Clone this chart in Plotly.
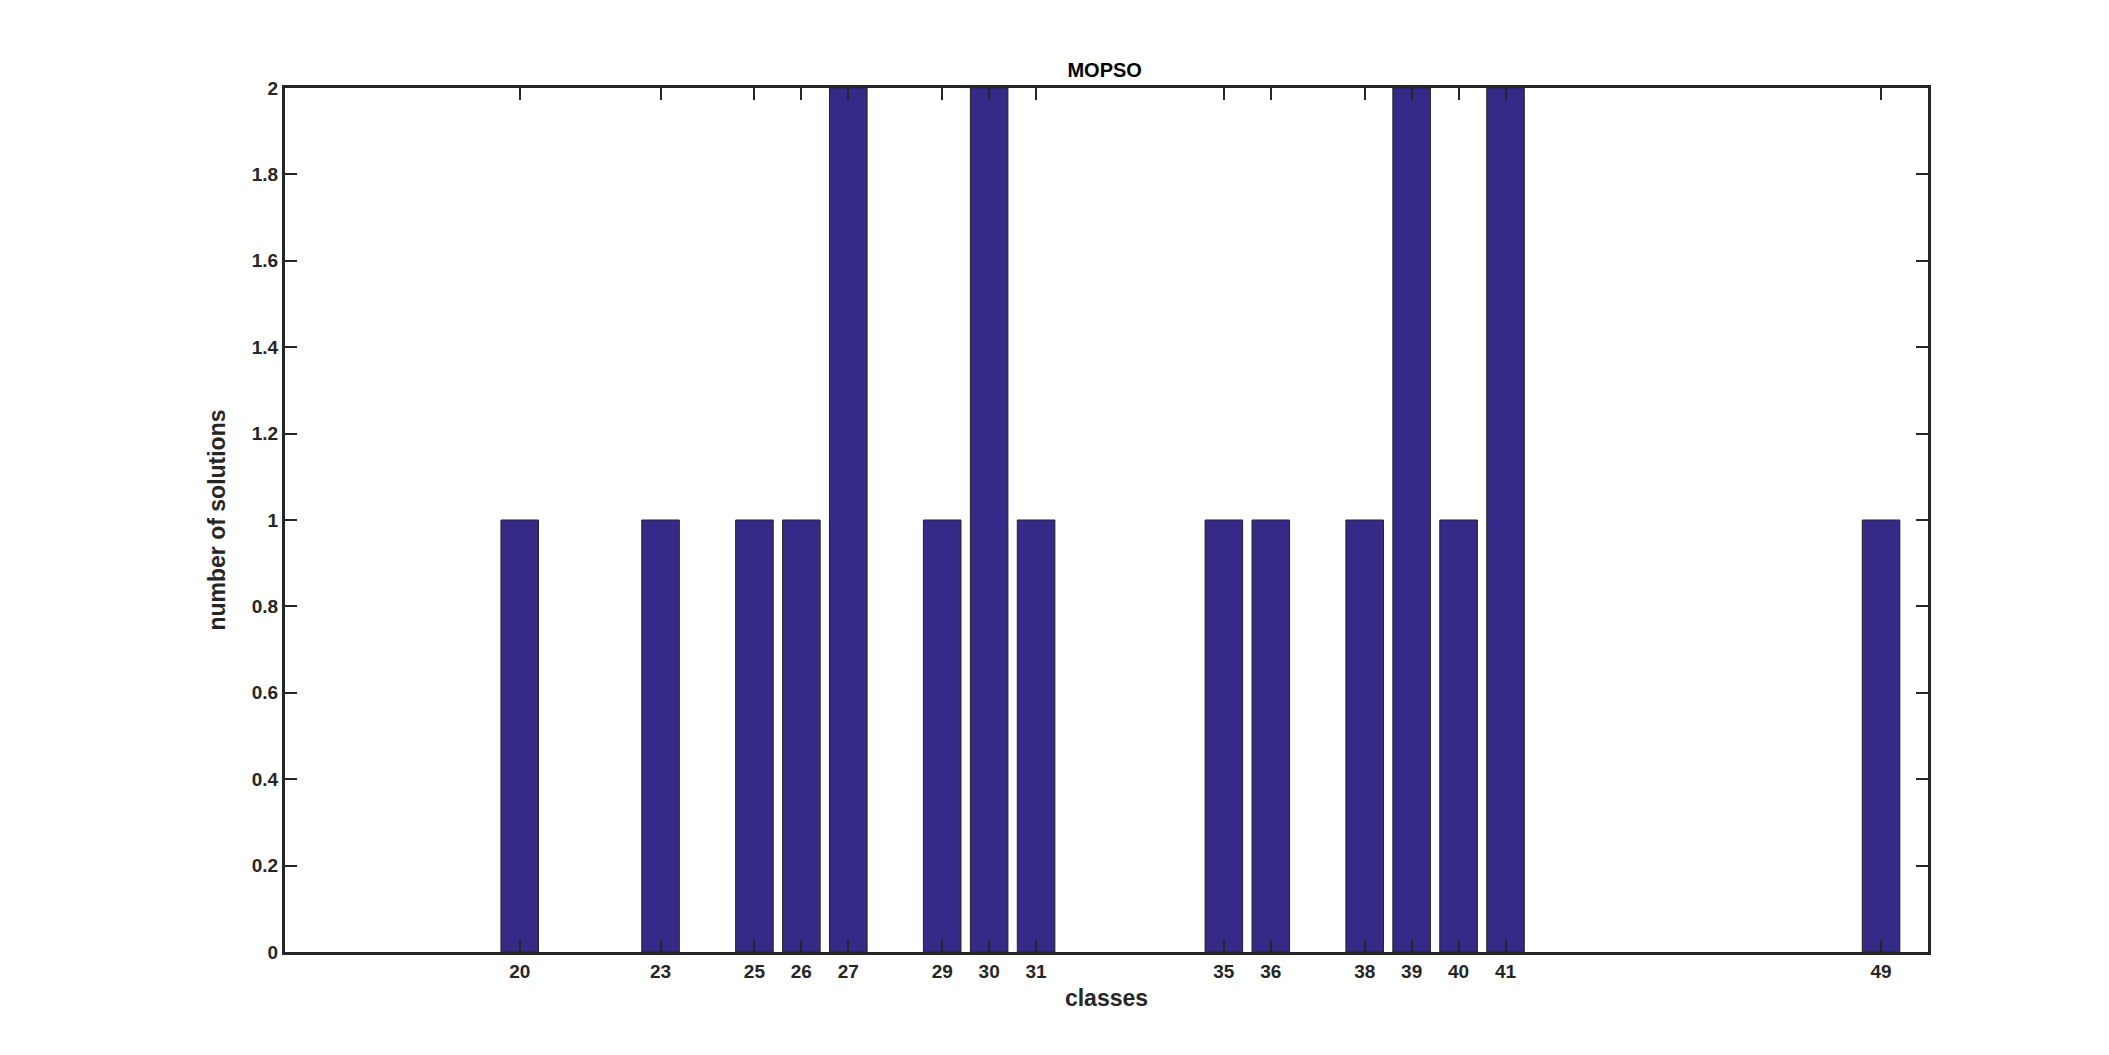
import plotly.graph_objects as go

classes = [20, 23, 25, 26, 27, 29, 30, 31, 35, 36, 38, 39, 40, 41, 49]
counts = [1, 1, 1, 1, 2, 1, 2, 1, 1, 1, 1, 2, 1, 2, 1]
y_ticks = [0, 0.2, 0.4, 0.6, 0.8, 1, 1.2, 1.4, 1.6, 1.8, 2]

fig = go.Figure(go.Bar(
    x=classes, y=counts, width=0.8,
    marker=dict(color="#352a87", line=dict(color="#222222", width=1)),
))

font = dict(family="Liberation Sans, Arial", size=19, color="#262626")

fig.update_layout(
    width=2109, height=1055,
    paper_bgcolor="white", plot_bgcolor="white",
    margin=dict(l=277, r=189, t=80, b=111),
    showlegend=False,
    title=dict(text="<b>MOPSO</b>", x=0.52, xanchor="center", y=0.935, yanchor="bottom",
               font=dict(family="Liberation Sans, Arial", size=20, color="black")),
    font=font,
)
fig.update_xaxes(
    range=[15, 50], tickvals=classes, ticktext=[f"<b>{c}</b>" for c in classes],
    ticks="inside", ticklen=12, tickwidth=2, tickcolor="#262626",
    showline=True, linecolor="#262626", linewidth=3, mirror="ticks",
    showgrid=False, zeroline=False,
    title=dict(text="<b>classes</b>", standoff=10),
)
fig.update_yaxes(
    range=[0, 2], tickvals=y_ticks, ticktext=[f"<b>{v:g}</b>" for v in y_ticks],
    ticks="inside", ticklen=12, tickwidth=2, tickcolor="#262626",
    showline=True, linecolor="#262626", linewidth=3, mirror="ticks",
    showgrid=False, zeroline=False,
    title=dict(text="<b>number of solutions</b>", standoff=20),
)

fig.write_html("out.html")
